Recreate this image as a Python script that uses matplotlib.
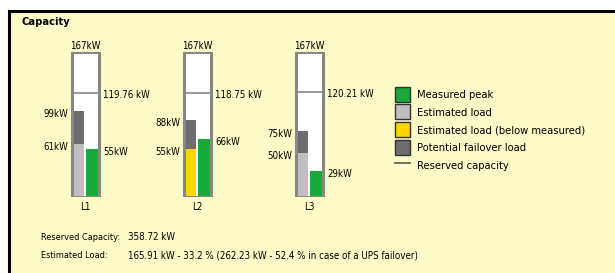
import numpy as np
import matplotlib
matplotlib.use("Agg")
import matplotlib.pyplot as plt
from matplotlib.patches import Patch, Rectangle
from matplotlib.lines import Line2D

# values
phases = ["L1", "L2", "L3"]
capacity = [167, 167, 167]
reserved = [119.76, 118.75, 120.21]
estimated = [61, 55, 50]
failover = [99, 88, 75]
measured = [55, 66, 29]
summary_labels = ["Reserved Capacity:", "Estimated Load:"]
summary_values = ["358.72 kW",
                  "165.91 kW - 33.2 % (262.23 kW - 52.4 % in case of a UPS failover)"]
legend_labels = ["Measured peak", "Estimated load", "Estimated load (below measured)",
                 "Potential failover load", "Reserved capacity"]

GREEN = "#19a83a"
LIGHT = "#bfbfbf"
YELLOW = "#ffd600"
DARK = "#6d6d6d"
BOXC = "#878787"
BG = "#fcfac7"

W, H = 615, 273
plt.rcParams["font.family"] = "DejaVu Sans"
plt.rcParams["font.stretch"] = "condensed"
FS = 7.0

fig = plt.figure(figsize=(W / 100, H / 100), dpi=100, facecolor="white")

# yellow panel with black top/left border
fig.add_artist(Rectangle((8.5 / W, -0.2), 1.5, 1.2 - 10.5 / H, transform=fig.transFigure,
                         facecolor=BG, edgecolor="black", lw=2.2, zorder=0))

fig.text(22 / W, 1 - 22 / H, "Capacity", weight="bold", fontsize=8.0, va="center")

# axes: one unit = 112 px, kW scale so 167 kW spans 145 px
ax = fig.add_axes([29 / W, (H - 196.5) / H, 336 / W, 145 / H])
ax.set_xlim(-0.5, 2.5)
ax.set_ylim(0, 167)
ax.axis("off")

x = np.arange(len(phases))
px = 1 / 112.0
box_w = 27 * px
inner_w = 11.5 * px

ax.bar(x, capacity, width=box_w, color="white", zorder=1)
est = np.array(estimated)
meas = np.array(measured)
est_colors = [YELLOW if e < m else LIGHT for e, m in zip(est, meas)]
ax.bar(x - 12.5 * px, est, width=inner_w, align="edge", color=est_colors, zorder=2)
ax.bar(x - 12.5 * px, np.array(failover) - est, bottom=est, width=inner_w, align="edge",
       color=DARK, zorder=2)
ax.bar(x + 0.5 * px, meas, width=12 * px, align="edge", color=GREEN, zorder=2)
ax.hlines(reserved, x - box_w / 2, x + box_w / 2, color=BOXC, lw=1.2, zorder=2.5)
ax.bar(x, capacity, width=box_w, facecolor="none", edgecolor=BOXC, lw=2.2, zorder=3)

pt = 0.72
for i in range(len(phases)):
    left = x[i] - box_w / 2 - 1.5 * px
    right = x[i] + box_w / 2 + 1.5 * px
    ax.annotate(f"{capacity[i]}kW", (x[i], capacity[i]), xytext=(0, 2.5 * pt),
                textcoords="offset points", ha="center", va="baseline", fontsize=FS,
                annotation_clip=False)
    ax.annotate(phases[i], (x[i], 0), xytext=(0, -10.5 * pt), textcoords="offset points",
                ha="center", va="center", fontsize=FS, annotation_clip=False)
    ax.annotate(f"{failover[i]}kW", (left, failover[i]), xytext=(-2 * pt, -3 * pt),
                textcoords="offset points", ha="right", va="center", fontsize=FS)
    ax.annotate(f"{estimated[i]}kW", (left, estimated[i]), xytext=(-2 * pt, -3 * pt),
                textcoords="offset points", ha="right", va="center", fontsize=FS)
    ax.annotate(f"{reserved[i]:.2f} kW", (right, reserved[i]), xytext=(3 * pt, -2 * pt),
                textcoords="offset points", ha="left", va="center", fontsize=FS)
    ax.annotate(f"{measured[i]}kW", (right, measured[i]), xytext=(3 * pt, -3 * pt),
                textcoords="offset points", ha="left", va="center", fontsize=FS)

handles = [Patch(facecolor=c, edgecolor="#333333", lw=1.0) for c in (GREEN, LIGHT, YELLOW, DARK)]
handles.append(Line2D([], [], color="#555555", lw=1.2))
lfs = 8.0
lpx = lfs / 0.72
fig.legend(handles, legend_labels, loc="upper left", bbox_to_anchor=(395 / W, 1 - 86.7 / H),
           frameon=False, fontsize=lfs, handlelength=15 / lpx, handleheight=1.70,
           handletextpad=7 / lpx, labelspacing=2.8 / lpx, borderpad=0, borderaxespad=0)

for j in range(len(summary_labels)):
    yy = 1 - (237.5 + 17.5 * j) / H
    fig.text(41 / W, yy, summary_labels[j], fontsize=6.6, va="center")
    fig.text(128 / W, yy, summary_values[j], fontsize=FS, va="center")

fig.savefig("out.png", dpi=100, facecolor="white")
